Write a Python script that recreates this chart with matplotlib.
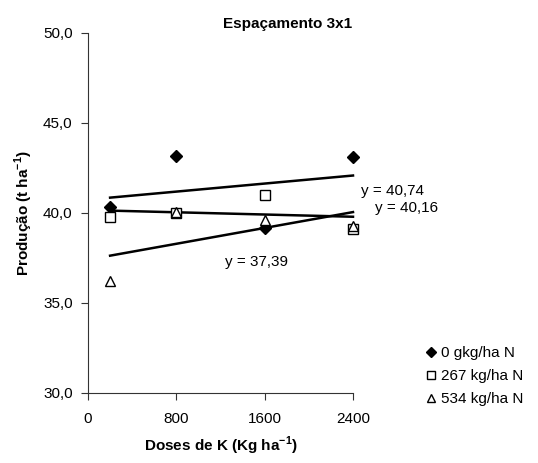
import numpy as np
import matplotlib
matplotlib.use("Agg")
import matplotlib.pyplot as plt
from matplotlib.ticker import FuncFormatter

plt.rcParams['font.family'] = ['Liberation Sans', 'DejaVu Sans']
plt.rcParams['mathtext.fontset'] = 'custom'
plt.rcParams['mathtext.bf'] = 'Liberation Sans:bold'
plt.rcParams['mathtext.rm'] = 'Liberation Sans'

doses = [200, 800, 1600, 2400]
n0 = [40.32, 43.15, 39.18, 43.11]
n267 = [39.76, 40.00, 41.02, 39.10]
n534 = [36.20, 40.04, 39.60, 39.30]
labels = ["0 gkg/ha N", "267 kg/ha N", "534 kg/ha N"]
eq_texts = ["y = 40,74", "y = 40,16", "y = 37,39"]
eq_pos = [(2470, 41.23), (2600, 40.28), (1240, 37.26)]
xticks = [0, 800, 1600, 2400]
yticks = [30, 35, 40, 45, 50]

FS = 11
fig = plt.figure(figsize=(5.38, 4.63), dpi=100)
ax = fig.add_axes([88/538, 1-393/463, (353-88)/538, (393-33)/463])

styles = [dict(marker='D', mfc='black', mec='black', ms=6),
          dict(marker='s', mfc='white', mec='black', ms=7, mew=1.0),
          dict(marker='^', mfc='white', mec='black', ms=7, mew=1.0)]
series = [n0, n267, n534]
handles = []
x = np.array(doses, dtype=float)
for ys, st, lab in zip(series, styles, labels):
    h, = ax.plot(doses, ys, linestyle='none', label=lab, **st, zorder=3, clip_on=False)
    handles.append(h)
    b, a = np.polyfit(x, ys, 1)
    xx = np.array([doses[0], doses[-1]])
    ax.plot(xx, a + b*xx, color='black', lw=1.8, zorder=2, clip_on=False)

for t, (px, py) in zip(eq_texts, eq_pos):
    ax.text(px, py, t, fontsize=FS, va='center', ha='left', clip_on=False)

ax.set_xlim(0, 2400)
ax.set_ylim(30, 50)
ax.set_xticks(xticks)
ax.set_yticks(yticks)
ax.yaxis.set_major_formatter(FuncFormatter(lambda v, p: f"{v:.1f}".replace('.', ',')))
ax.tick_params(direction='out', length=5, labelsize=FS, color='#333333', pad=6)
ax.tick_params(axis='x', pad=9)
for s in ['top', 'right']:
    ax.spines[s].set_visible(False)
for s in ['left', 'bottom']:
    ax.spines[s].set_color('#333333')

ax.set_xlabel("Doses de K (Kg ha$^{\\mathbf{-1}}$)", fontsize=FS, fontweight='bold', labelpad=6)
ax.set_ylabel("Produção (t ha$^{\\mathbf{-1}}$)", fontsize=FS, fontweight='bold', labelpad=6)
fig.text(223/538, 1-28/463, "Espaçamento 3x1", fontsize=FS, fontweight='bold', ha='left', va='baseline')

fig.legend(handles=handles, labels=labels, loc='upper left', bbox_to_anchor=(426/538, 1-346/463),
           frameon=False, fontsize=FS, handlelength=0.6, handletextpad=0.35, labelspacing=0.6,
           borderaxespad=0, borderpad=0, markerscale=0.85)

fig.savefig("out.png", dpi=100)
